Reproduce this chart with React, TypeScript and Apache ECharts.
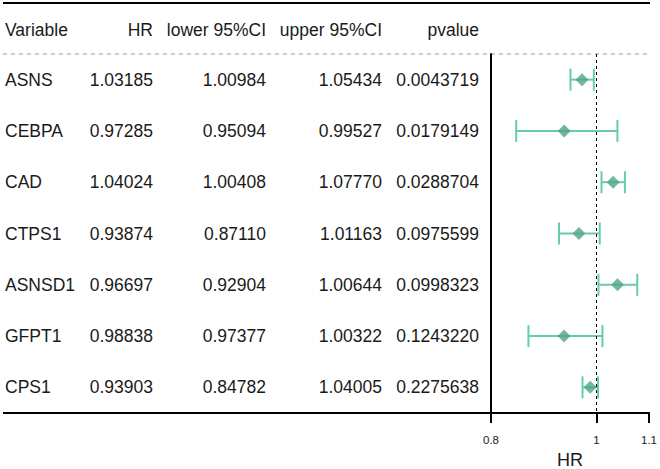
import React, { useEffect, useRef } from "react";
import * as echarts from "echarts";

const variables = ["ASNS", "CEBPA", "CAD", "CTPS1", "ASNSD1", "GFPT1", "CPS1"];
const hrText = ["1.03185", "0.97285", "1.04024", "0.93874", "0.96697", "0.98838", "0.93903"];
const lowerText = ["1.00984", "0.95094", "1.00408", "0.87110", "0.92904", "0.97377", "0.84782"];
const upperText = ["1.05434", "0.99527", "1.07770", "1.01163", "1.00644", "1.00322", "1.04005"];
const pvalueText = ["0.0043719", "0.0179149", "0.0288704", "0.0975599", "0.0998323", "0.1243220", "0.2275638"];
const headers = ["Variable", "HR", "lower 95%CI", "upper 95%CI", "pvalue"];

// The plotted markers, row by row, as they appear in the picture
const plotHR = [0.97285, 0.93903, 1.03185, 0.96697, 1.04024, 0.93874, 0.98838];
const plotLower = [0.95094, 0.84782, 1.00984, 0.92904, 1.00408, 0.8711, 0.97377];
const plotUpper = [0.99527, 1.04005, 1.05434, 1.00644, 1.0777, 1.01163, 1.00322];
const xTicks = [0.8, 1, 1.1];

export default function App() {
  const ref = useRef<HTMLDivElement>(null);
  useEffect(() => {
    const chart = echarts.init(ref.current!, null, { renderer: "svg" });
    const W = 660;
    const gridTop = 54;
    const gridBottomY = 413;
    const gridLeft = 491;
    const gridRight = 649;
    const rowH = (gridBottomY - gridTop) / variables.length;
    const font = "Liberation Sans, Arial, sans-serif";
    const fs = 17.5;
    const txtColor = "#1a1a1a";
    const colRight = [0, 153, 266, 382, 479];
    const cols = [variables, hrText, lowerText, upperText, pvalueText];

    const graphics: any[] = [];
    graphics.push({
      type: "line",
      shape: { x1: 3, y1: 3, x2: 650, y2: 3 },
      style: { stroke: "#000", lineWidth: 2 },
    });
    graphics.push({
      type: "line",
      shape: { x1: 3, y1: gridTop, x2: 650, y2: gridTop },
      style: { stroke: "#9a9a9a", lineWidth: 1, lineDash: [4, 4] },
    });
    graphics.push({
      type: "line",
      shape: { x1: 3, y1: gridBottomY, x2: gridLeft, y2: gridBottomY },
      style: { stroke: "#000", lineWidth: 2 },
    });
    headers.forEach((h, c) => {
      graphics.push({
        type: "text",
        x: c === 0 ? 5 : colRight[c],
        y: 30,
        style: {
          text: h,
          fill: txtColor,
          font: `${fs}px ${font}`,
          align: c === 0 ? "left" : "right",
          verticalAlign: "middle",
        },
      });
    });
    cols.forEach((arr, c) => {
      arr.forEach((t, i) => {
        graphics.push({
          type: "text",
          x: c === 0 ? 5 : colRight[c],
          y: gridTop + (i + 0.5) * rowH,
          style: {
            text: t,
            fill: txtColor,
            font: `${fs}px ${font}`,
            align: c === 0 ? "left" : "right",
            verticalAlign: "middle",
          },
        });
      });
    });

    const ciColor = "#66CDAA";
    const ptColor = "#4FA487";

    chart.setOption({
      animation: false,
      grid: {
        left: gridLeft,
        right: W - gridRight,
        top: gridTop,
        bottom: 469 - gridBottomY,
        containLabel: false,
        outerBoundsMode: "none",
      },
      xAxis: {
        type: "value",
        min: 0.8,
        max: 1.1,
        splitLine: { show: false },
        axisLine: { show: true, lineStyle: { color: "#000", width: 2 } },
        axisTick: {
          show: true,
          customValues: xTicks,
          length: 10,
          lineStyle: { color: "#000", width: 2 },
        },
        axisLabel: {
          customValues: xTicks,
          fontSize: 11.5,
          color: txtColor,
          margin: 21,
          fontFamily: font,
          formatter: (v: number) => String(v),
        },
        name: "HR",
        nameLocation: "middle",
        nameGap: 37,
        nameTextStyle: { fontSize: 18, color: txtColor, fontFamily: font },
      },
      yAxis: {
        type: "category",
        data: variables,
        inverse: true,
        axisLine: { show: true, lineStyle: { color: "#000", width: 2 } },
        axisTick: { show: false },
        axisLabel: { show: false },
        splitLine: { show: false },
      },
      series: [
        {
          type: "custom",
          renderItem: (params: any, api: any) => {
            const idx = api.value(2);
            const a = api.coord([api.value(0), idx]);
            const b = api.coord([api.value(1), idx]);
            const h = 11;
            const style = { stroke: ciColor, lineWidth: 2 };
            return {
              type: "group",
              children: [
                { type: "line", shape: { x1: a[0], y1: a[1], x2: b[0], y2: b[1] }, style },
                { type: "line", shape: { x1: a[0], y1: a[1] - h, x2: a[0], y2: a[1] + h }, style },
                { type: "line", shape: { x1: b[0], y1: b[1] - h, x2: b[0], y2: b[1] + h }, style },
              ],
            };
          },
          encode: { x: [0, 1], y: 2 },
          data: plotLower.map((lo, i) => [lo, plotUpper[i], i]),
          z: 2,
        },
        {
          type: "scatter",
          symbol: "diamond",
          symbolSize: 13,
          itemStyle: { color: ptColor },
          data: plotHR.map((v, i) => [v, i]),
          z: 3,
          markLine: {
            silent: true,
            symbol: "none",
            label: { show: false },
            lineStyle: { color: "#000", type: [3, 3], width: 1 },
            data: [{ xAxis: 1 }],
          },
        },
      ],
      graphic: graphics,
    });
    return () => chart.dispose();
  }, []);
  return (
    <div
      ref={ref}
      style={{ position: "absolute", left: 0, top: 0, width: 660, height: 469 }}
    />
  );
}
